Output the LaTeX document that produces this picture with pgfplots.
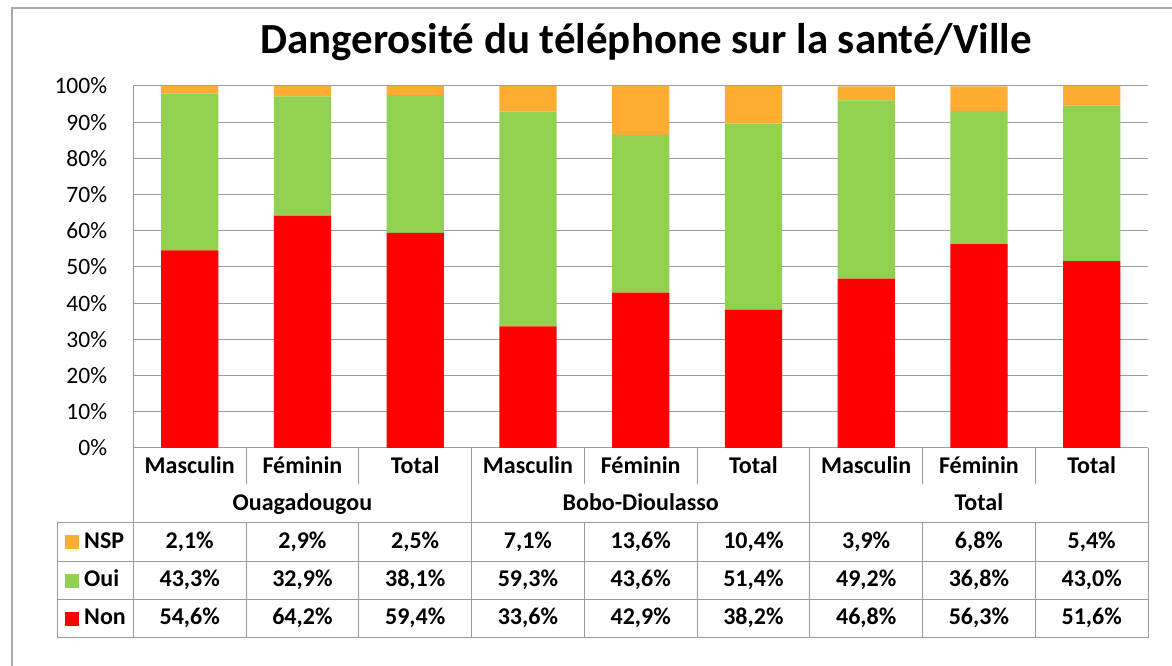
\documentclass[border=0pt]{standalone}
\usepackage{pgfplots}
\pgfplotsset{compat=1.18}
\usepackage{fontspec}
\setmainfont{Carlito}
\definecolor{cnsp}{RGB}{255,172,51}
\definecolor{coui}{RGB}{146,208,80}
\definecolor{cnon}{RGB}{255,0,0}
\definecolor{cgrid}{RGB}{155,155,155}
\definecolor{cframe}{RGB}{170,170,170}
\begin{document}
\begin{tikzpicture}[x=1pt,y=1pt]
\path[use as bounding box] (0,0) rectangle (1172,666);
\draw[cframe, line width=1.2pt] (12,0) -- (12,658) -- (1172,658);
\node[anchor=base, font=\fontsize{42.9}{50}\selectfont\bfseries] at (646,612) {Dangerosité du téléphone sur la santé/Ville};
\begin{axis}[
  at={(133.3pt,218pt)}, anchor=south west, scale only axis,
  width=1014.75pt, height=362pt,
  xmin=-0.5, xmax=8.5, ymin=0, ymax=100,
  ybar stacked, bar width=57.3pt,
  axis x line*=bottom, axis y line*=left,
  axis line style={cgrid, line width=1pt},
  ytick={0,10,...,100},
  yticklabel={\pgfmathprintnumber{\tick}\%},
  /pgf/number format/assume math mode=true,
  yticklabel style={font=\fontsize{23.5}{28}\selectfont, inner sep=0pt, xshift=-26pt},
  xtick={0,...,8},
  xticklabels={Masculin,Féminin,Total,Masculin,Féminin,Total,Masculin,Féminin,Total},
  xticklabel style={font=\fontsize{24}{28}\selectfont\bfseries, anchor=base, inner sep=0pt, yshift=-25.5pt},
  major tick length=0pt,
  ymajorgrids, grid style={cgrid, line width=1pt},
]
\addplot[fill=cnon, draw=none] coordinates {(0,54.6) (1,64.2) (2,59.4) (3,33.6) (4,42.9) (5,38.2) (6,46.8) (7,56.3) (8,51.6)};
\addplot[fill=coui, draw=none] coordinates {(0,43.3) (1,32.9) (2,38.1) (3,59.3) (4,43.6) (5,51.4) (6,49.2) (7,36.8) (8,43.0)};
\addplot[fill=cnsp, draw=none] coordinates {(0,2.1) (1,2.9) (2,2.5) (3,7.1) (4,13.6) (5,10.4) (6,3.9) (7,6.8) (8,5.4)};
\end{axis}
% table grid
\begin{scope}[cgrid, line width=1pt]
\draw (57.3,143.3) -- (1148.05,143.3);
\draw (57.3,104.7) -- (1148.05,104.7);
\draw (57.3,66) -- (1148.05,66);
\draw (57.3,28.3) -- (1148.05,28.3);
\draw (57.3,143.3) -- (57.3,28.3);
\draw (133.3,218) -- (133.3,28.3);
\draw (1148.05,218) -- (1148.05,28.3);
\foreach \x in {471.55,809.8} \draw (\x,218) -- (\x,28.3);
\foreach \x in {246.05,358.8,584.3,697.05,922.55,1035.3} {
  \draw (\x,218) -- (\x,182);
  \draw (\x,143.3) -- (\x,28.3);
}
\end{scope}
\begin{scope}[every node/.style={anchor=base, inner sep=0pt, font=\fontsize{24}{28}\selectfont\bfseries}]
\node at (302.4,155.3) {Ouagadougou};
\node at (640.7,155.3) {Bobo-Dioulasso};
\node at (978.9,155.3) {Total};
% legend
\fill[cnsp] (65,117) rectangle (79,131);
\fill[coui] (65,78.4) rectangle (79,92.4);
\fill[cnon] (65,40) rectangle (79,54);
\node[anchor=base west] at (84,117.7) {NSP};
\node[anchor=base west] at (84,79.3) {Oui};
\node[anchor=base west] at (84,41) {Non};
% values
\node at (189.7,117.7) {2,1\%};
\node at (302.4,117.7) {2,9\%};
\node at (415.2,117.7) {2,5\%};
\node at (527.9,117.7) {7,1\%};
\node at (640.7,117.7) {13,6\%};
\node at (753.4,117.7) {10,4\%};
\node at (866.2,117.7) {3,9\%};
\node at (978.9,117.7) {6,8\%};
\node at (1091.7,117.7) {5,4\%};
\node at (189.7,79.3) {43,3\%};
\node at (302.4,79.3) {32,9\%};
\node at (415.2,79.3) {38,1\%};
\node at (527.9,79.3) {59,3\%};
\node at (640.7,79.3) {43,6\%};
\node at (753.4,79.3) {51,4\%};
\node at (866.2,79.3) {49,2\%};
\node at (978.9,79.3) {36,8\%};
\node at (1091.7,79.3) {43,0\%};
\node at (189.7,41) {54,6\%};
\node at (302.4,41) {64,2\%};
\node at (415.2,41) {59,4\%};
\node at (527.9,41) {33,6\%};
\node at (640.7,41) {42,9\%};
\node at (753.4,41) {38,2\%};
\node at (866.2,41) {46,8\%};
\node at (978.9,41) {56,3\%};
\node at (1091.7,41) {51,6\%};
\end{scope}
\end{tikzpicture}
\end{document}
